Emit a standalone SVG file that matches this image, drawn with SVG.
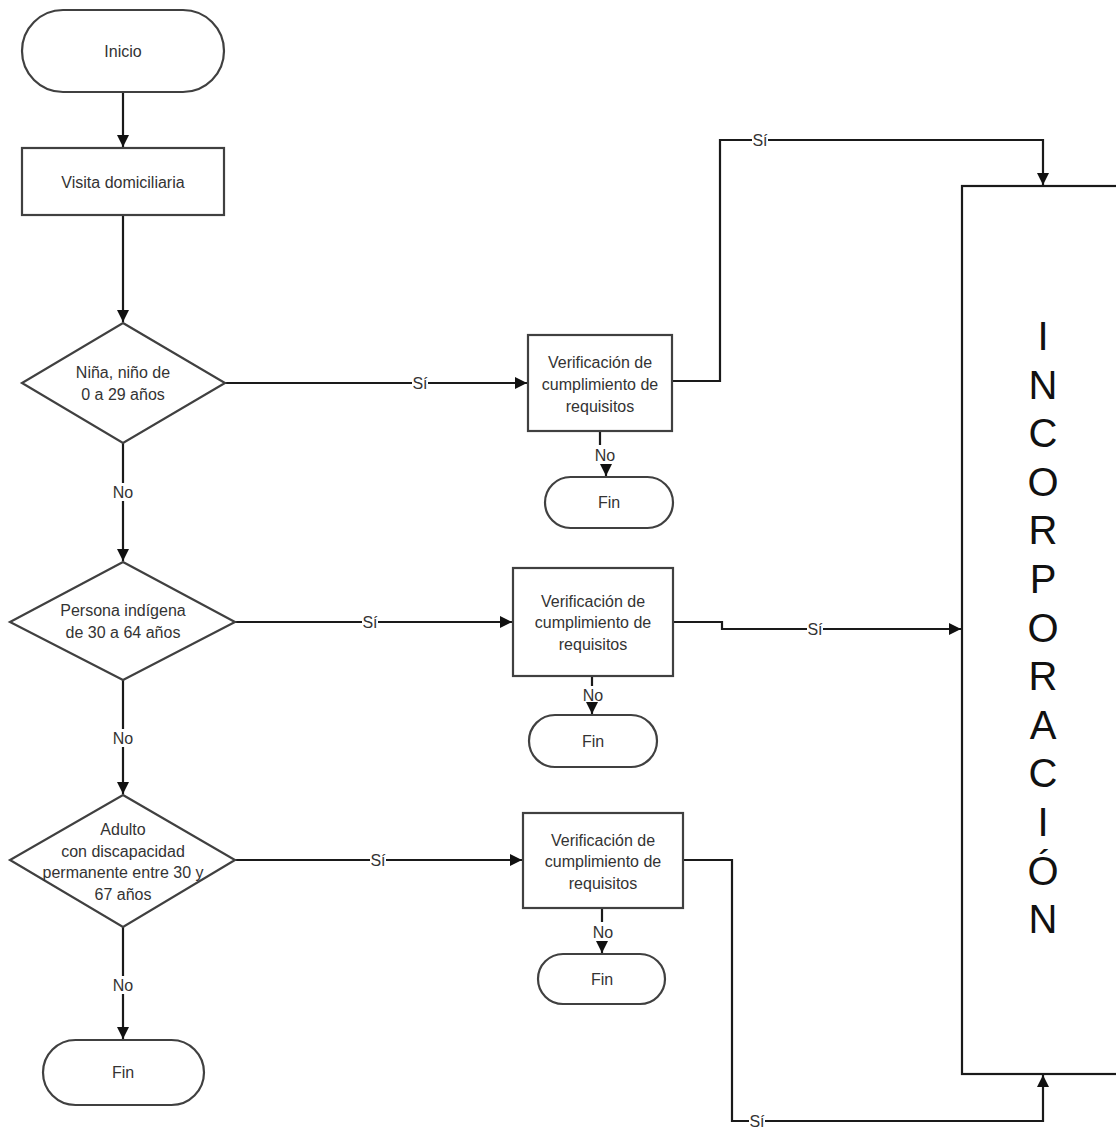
<svg xmlns="http://www.w3.org/2000/svg" width="1116" height="1130" viewBox="0 0 1116 1130">
<defs>
<marker id="ah" viewBox="0 0 12 12" refX="12" refY="6" markerWidth="12" markerHeight="12" markerUnits="userSpaceOnUse" orient="auto">
<path d="M0,0 L12,6 L0,12 Z" fill="#111"/>
</marker>
</defs>
<style>
.shape{fill:#fff;stroke:#404040;stroke-width:2.2}
.conn{fill:none;stroke:#1a1a1a;stroke-width:2.2}
.t{font-family:"Liberation Sans",Arial,sans-serif;font-size:16px;fill:#333;text-anchor:middle;dominant-baseline:central}
.lbl{font-family:"Liberation Sans",Arial,sans-serif;font-size:16px;fill:#333;text-anchor:middle;dominant-baseline:central}
.big{font-family:"Liberation Sans",Arial,sans-serif;font-size:40px;fill:#111;text-anchor:middle}
</style>
<rect width="1116" height="1130" fill="#fff"/>
<g id="connectors">
<path class="conn" d="M123,92 V147" marker-end="url(#ah)"/>
<path class="conn" d="M123,215 V322" marker-end="url(#ah)"/>
<path class="conn" d="M123,443 V561" marker-end="url(#ah)"/>
<path class="conn" d="M123,680 V794" marker-end="url(#ah)"/>
<path class="conn" d="M123,927 V1039" marker-end="url(#ah)"/>
<path class="conn" d="M225,383 H527" marker-end="url(#ah)"/>
<path class="conn" d="M235,622 H512" marker-end="url(#ah)"/>
<path class="conn" d="M235,860 H522" marker-end="url(#ah)"/>
<path class="conn" d="M672,381 H720 V140 H1043 V185" marker-end="url(#ah)"/>
<path class="conn" d="M673,622 H722 V629 H961" marker-end="url(#ah)"/>
<path class="conn" d="M683,860 H732 V1121 H1043 V1075" marker-end="url(#ah)"/>
<path class="conn" d="M600,431 V445 M606,466 V476" marker-end="url(#ah)"/>
<path class="conn" d="M592,676 V686 M592,705 V714" marker-end="url(#ah)"/>
<path class="conn" d="M602,908 V922 M602,942 V953" marker-end="url(#ah)"/>
</g>
<g id="labels">
<rect x="113" y="483" width="20" height="18" fill="#fff"/><text class="lbl" x="123" y="492">No</text>
<rect x="113" y="729" width="20" height="18" fill="#fff"/><text class="lbl" x="123" y="738">No</text>
<rect x="113" y="976" width="20" height="18" fill="#fff"/><text class="lbl" x="123" y="985">No</text>
<rect x="412" y="374" width="16" height="18" fill="#fff"/><text class="lbl" x="420" y="383">Sí</text>
<rect x="362" y="613" width="16" height="18" fill="#fff"/><text class="lbl" x="370" y="622">Sí</text>
<rect x="370" y="851" width="16" height="18" fill="#fff"/><text class="lbl" x="378" y="860">Sí</text>
<rect x="752" y="131" width="16" height="18" fill="#fff"/><text class="lbl" x="760" y="140">Sí</text>
<rect x="807" y="620" width="16" height="18" fill="#fff"/><text class="lbl" x="815" y="629">Sí</text>
<rect x="749" y="1112" width="16" height="18" fill="#fff"/><text class="lbl" x="757" y="1121">Sí</text>
<text class="lbl" x="605" y="455">No</text>
<text class="lbl" x="593" y="695">No</text>
<text class="lbl" x="603" y="932">No</text>
</g>
<g id="inicio"><rect class="shape" x="22" y="10" width="202" height="82" rx="41"/><text class="t" x="123" y="51">Inicio</text></g>
<g id="visita"><rect class="shape" x="22" y="148" width="202" height="67"/><text class="t" x="123" y="182">Visita domiciliaria</text></g>
<g id="d1"><polygon class="shape" points="123,323 225,383 123,443 22,383"/><text class="t" x="123" y="372">Niña, niño de</text><text class="t" x="123" y="394">0 a 29 años</text></g>
<g id="d2"><polygon class="shape" points="123,562 235,622 123,680 10,622"/><text class="t" x="123" y="610">Persona indígena</text><text class="t" x="123" y="632">de 30 a 64 años</text></g>
<g id="d3"><polygon class="shape" points="123,795 235,860 123,927 10,860"/><text class="t" x="123" y="829">Adulto</text><text class="t" x="123" y="851">con discapacidad</text><text class="t" x="123" y="872">permanente entre 30 y</text><text class="t" x="123" y="894">67 años</text></g>
<g id="fin0"><rect class="shape" x="43" y="1040" width="161" height="65" rx="32.5"/><text class="t" x="123" y="1072">Fin</text></g>
<g id="v1"><rect class="shape" x="528" y="335" width="144" height="96"/><text class="t" x="600" y="362">Verificación de</text><text class="t" x="600" y="384">cumplimiento de</text><text class="t" x="600" y="406">requisitos</text></g>
<g id="fin1"><rect class="shape" x="545" y="477" width="128" height="51" rx="25.5"/><text class="t" x="609" y="502">Fin</text></g>
<g id="v2"><rect class="shape" x="513" y="568" width="160" height="108"/><text class="t" x="593" y="601">Verificación de</text><text class="t" x="593" y="622">cumplimiento de</text><text class="t" x="593" y="644">requisitos</text></g>
<g id="fin2"><rect class="shape" x="529" y="715" width="128" height="52" rx="26"/><text class="t" x="593" y="741">Fin</text></g>
<g id="v3"><rect class="shape" x="523" y="813" width="160" height="95"/><text class="t" x="603" y="840">Verificación de</text><text class="t" x="603" y="861">cumplimiento de</text><text class="t" x="603" y="883">requisitos</text></g>
<g id="fin3"><rect class="shape" x="538" y="954" width="127" height="50" rx="25"/><text class="t" x="602" y="979">Fin</text></g>
<g id="incorporacion">
<rect x="962" y="186" width="170" height="888" fill="#fff" stroke="#1a1a1a" stroke-width="2.2"/>
<text class="big" x="1043" y="350">I</text>
<text class="big" x="1043" y="399">N</text>
<text class="big" x="1043" y="447">C</text>
<text class="big" x="1043" y="496">O</text>
<text class="big" x="1043" y="544">R</text>
<text class="big" x="1043" y="593">P</text>
<text class="big" x="1043" y="642">O</text>
<text class="big" x="1043" y="690">R</text>
<text class="big" x="1043" y="739">A</text>
<text class="big" x="1043" y="787">C</text>
<text class="big" x="1043" y="836">I</text>
<text class="big" x="1043" y="885">Ó</text>
<text class="big" x="1043" y="933">N</text>
</g>
</svg>
